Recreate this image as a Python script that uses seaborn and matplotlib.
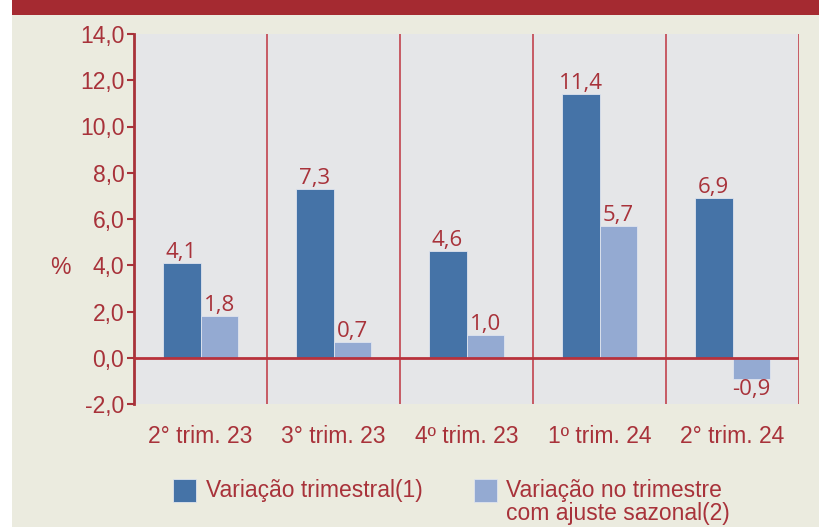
import matplotlib
matplotlib.use("Agg")
import matplotlib.pyplot as plt
import seaborn as sns
import pandas as pd
import numpy as np
from matplotlib.patches import Rectangle

categories = ["2° trim. 23", "3° trim. 23", "4º trim. 23", "1º trim. 24", "2° trim. 24"]
serie_names = ["Variação trimestral(1)", "Variação no trimestre\ncom ajuste sazonal(2)"]
var_trimestral = [4.1, 7.3, 4.6, 11.4, 6.9]
var_ajustada = [1.8, 0.7, 1.0, 5.7, -0.9]
yticks = [-2, 0, 2, 4, 6, 8, 10, 12, 14]

RED = "#a8323a"
DARK = "#4573a7"
LIGHT = "#94aad2"
CREAM = "#ebebdf"
PANEL = "#e5e6e8"

df = pd.DataFrame({
    "trim": categories * 2,
    "val": var_trimestral + var_ajustada,
    "serie": [serie_names[0]] * len(categories) + [serie_names[1]] * len(categories),
})

sns.set_theme(style="white")
plt.rcParams["font.family"] = ["Liberation Sans", "DejaVu Sans"]

fig = plt.figure(figsize=(8.2, 5.27), dpi=100)
fig.patch.set_facecolor("white")
# cream panel and red top band
fig.patches.append(Rectangle((12 / 820, 0), 1 - 12 / 820, 1, transform=fig.transFigure,
                             facecolor=CREAM, edgecolor="none", zorder=-10))
fig.patches.append(Rectangle((12 / 820, 1 - 15 / 527), 1 - 12 / 820, 15 / 527, transform=fig.transFigure,
                             facecolor="#a52a31", edgecolor="none", zorder=-9))

ax = fig.add_axes([134 / 820, 1 - 404 / 527, 665 / 820, 370 / 527])
ax.set_facecolor(PANEL)

sns.barplot(data=df, x="trim", y="val", hue="serie", palette=[DARK, LIGHT],
            width=0.57, gap=0, ax=ax, saturation=1, edgecolor="#dfe4ee", linewidth=0.6)

ax.set_ylim(-2, 14)
ax.set_xlim(-0.5, len(categories) - 0.5)
ax.set_yticks(yticks)
ax.set_yticklabels([f"{v:.1f}".replace(".", ",") for v in yticks])

for c, vals in zip(ax.containers, [var_trimestral, var_ajustada]):
    ax.bar_label(c, labels=[f"{v:.1f}".replace(".", ",") for v in vals], padding=0,
                 color=RED, fontsize=16, family=["Open Sans", "DejaVu Sans"])

# separators
for b in np.arange(0.5, len(categories), 1.0):
    ax.axvline(b, color="#c4505a", lw=1.3, zorder=0.5)
ax.axhline(0, color="#b8323c", lw=2, zorder=3)

for s in ["top", "right", "bottom"]:
    ax.spines[s].set_visible(False)
ax.spines["left"].set_color(RED)
ax.spines["left"].set_linewidth(2)
ax.tick_params(axis="y", colors=RED, labelcolor=RED, labelsize=16.5, direction="out",
               length=5, width=1.5, left=True, pad=2)
ax.tick_params(axis="x", colors=RED, labelcolor=RED, labelsize=16.5, bottom=False, pad=9)
ax.set_xlabel("")
ax.set_ylabel("%", rotation=0, color=RED, fontsize=16.5, va="center", ha="center")
ax.yaxis.set_label_coords(-0.11, 0.368)

handles, labels = ax.get_legend_handles_labels()
ax.get_legend().remove()
leg = fig.legend(handles, labels, loc="upper left", bbox_to_anchor=(162 / 820, 1 - 468 / 527),
                 ncol=2, frameon=False, fontsize=16.5, handlelength=1.0, handleheight=1.15,
                 handletextpad=0.4, columnspacing=2.25, borderpad=0, labelcolor=RED)
for t in leg.get_texts():
    t.set_linespacing(1.0)
# align each legend square with the first line of its label
leg._legend_handle_box.align = "top"
for col in leg._legend_handle_box.get_children():
    col.align = "left"
    for item in col.get_children():
        item.align = "top"

fig.savefig("out.png", dpi=100, facecolor=fig.get_facecolor())
